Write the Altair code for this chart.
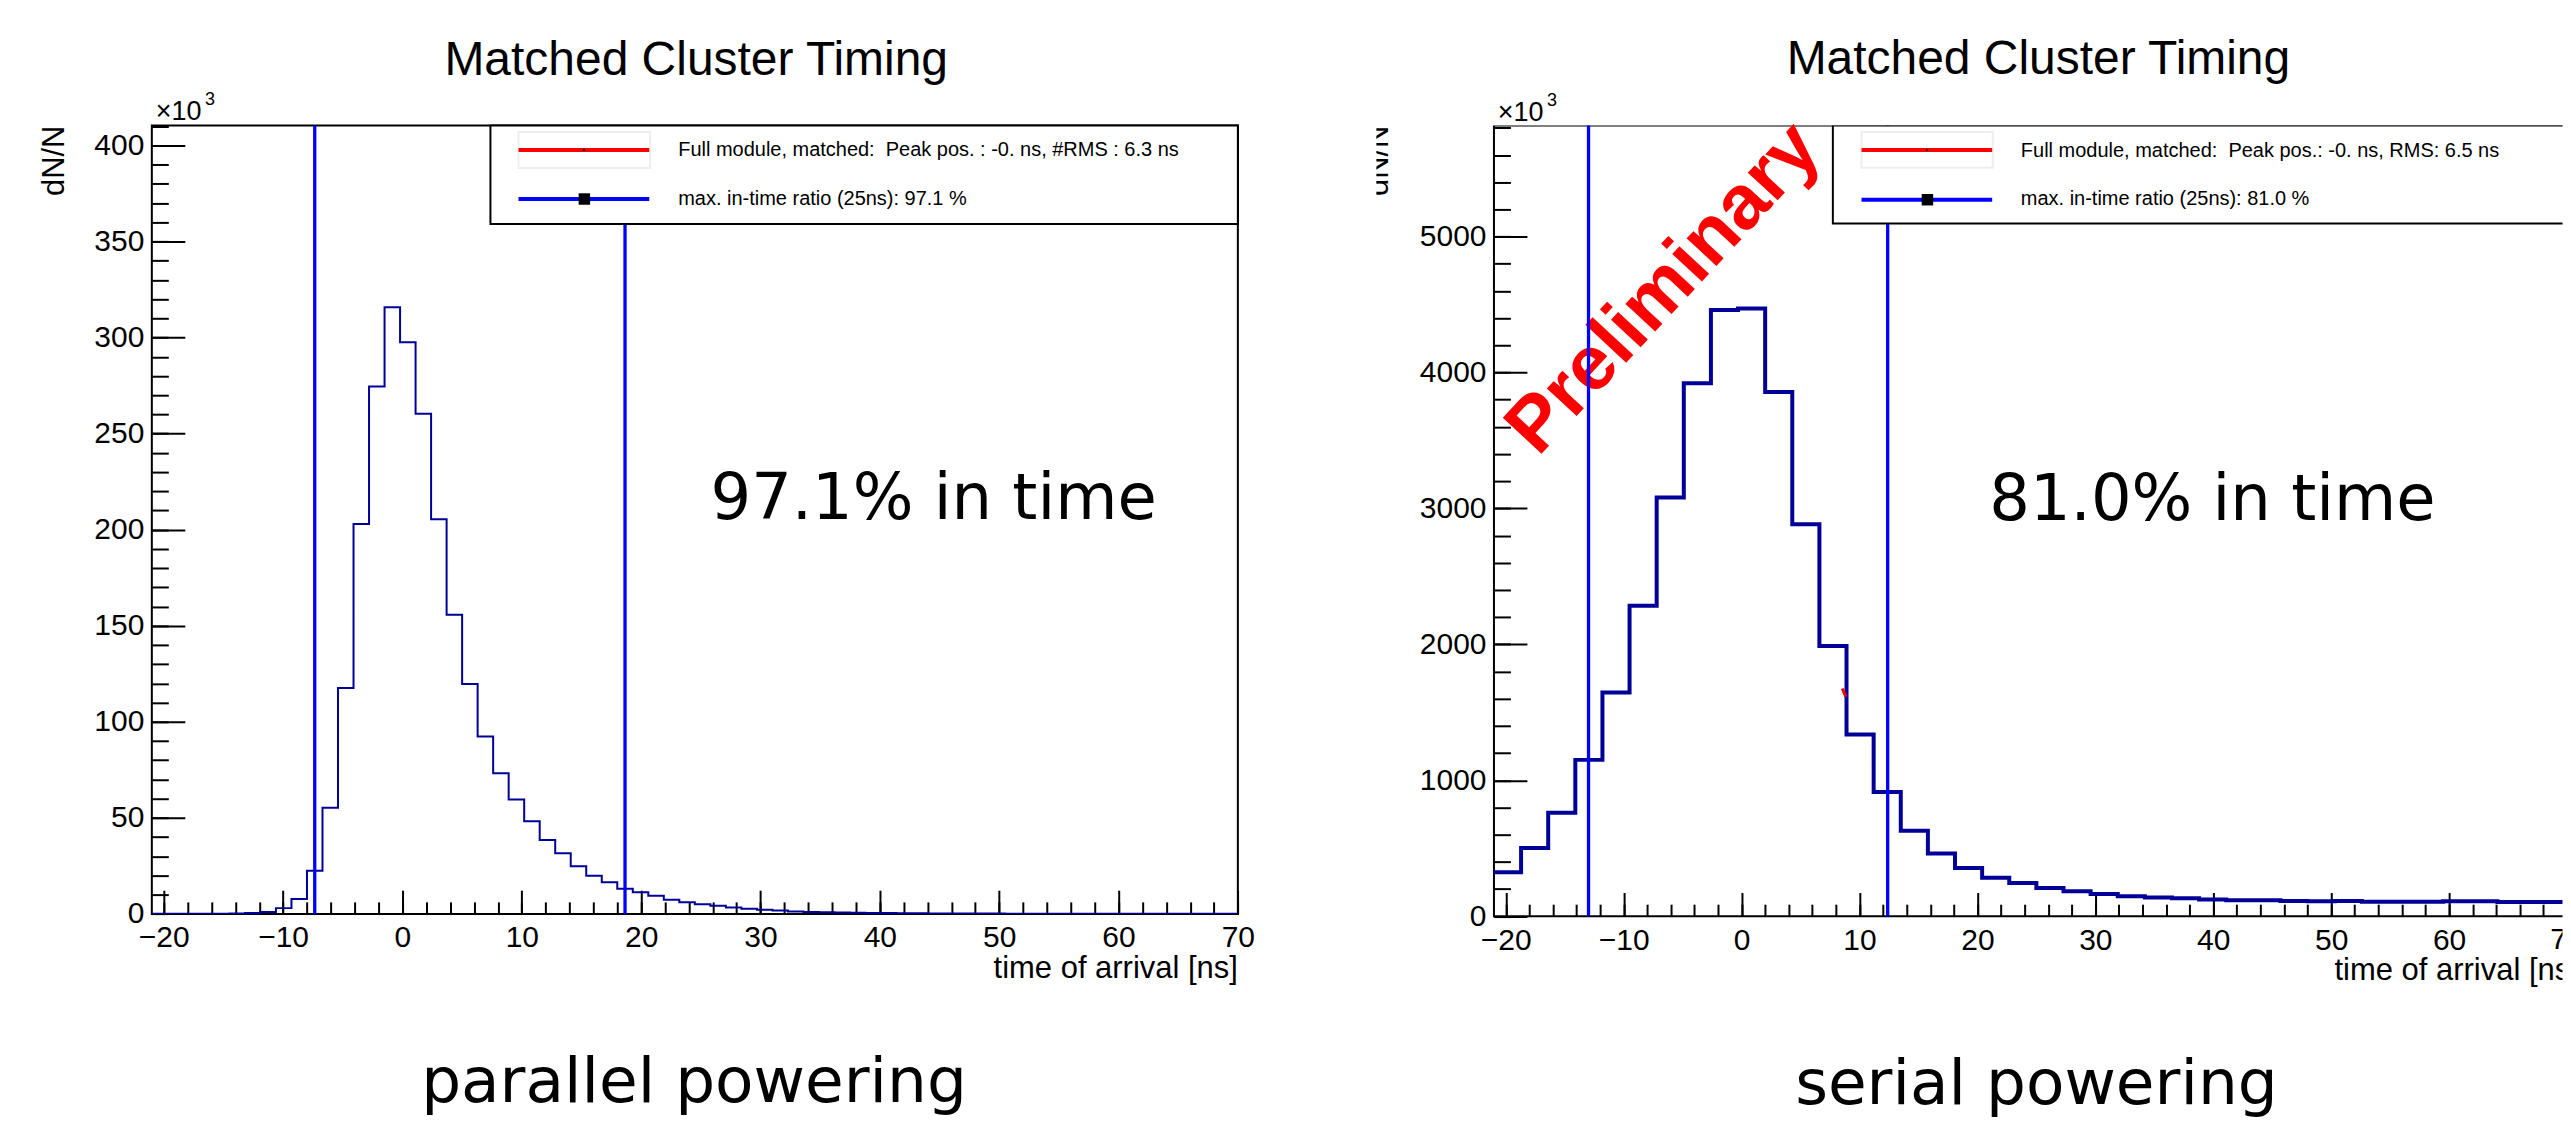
import altair as alt
import pandas as pd

# ---------------- values ----------------
# parallel powering: 70 bins of 1.3 ns starting at -21 ns (counts in units of 10^3)
par_start, par_width = -21.0, 1.3
par_counts = [0.02, 0.02, 0.03, 0.04, 0.06, 0.15, 0.4, 1.0, 3.0, 7.8,
              22.5, 55.2, 117.6, 202.9, 274.6, 315.8, 297.6, 260.4, 205.4, 155.7,
              119.7, 92.3, 73.2, 59.6, 48.2, 38.4, 31.6, 24.8, 19.9, 16.5,
              13.1, 11.2, 9.5, 7.4, 6.1, 5.0, 4.2, 3.3, 2.7, 2.1,
              1.7, 1.2, 1.0, 0.85, 0.7, 0.6, 0.5, 0.42, 0.36, 0.3,
              0.26, 0.22, 0.19, 0.16, 0.14, 0.12, 0.1, 0.09, 0.08, 0.07,
              0.06, 0.06, 0.05, 0.05, 0.04, 0.04, 0.04, 0.03, 0.03, 0.03]
# serial powering: 40 bins of 2.3 ns starting at -21 ns (counts in units of 10^3)
ser_start, ser_width = -21.0, 2.3
ser_counts = [324, 501, 761, 1150, 1645, 2283, 3081, 3920, 4460, 4471,
              3857, 2883, 1987, 1337, 914, 629, 462, 354, 282, 244,
              208, 183, 164, 147, 137, 132, 122, 117, 117, 112,
              110, 112, 107, 107, 107, 110, 110, 105, 105, 105]
par_window = [-7.35, 18.65]
ser_window = [-12.98, 12.39]
ser_red_t = [8.54, 8.83]
ser_red_n = [1675.0, 1615.0]

x_major = [-20, -10, 0, 10, 20, 30, 40, 50, 60, 70]
x_minor = list(range(-20, 71, 2))
par_y_major = [0, 50, 100, 150, 200, 250, 300, 350, 400]
par_y_minor = list(range(0, 411, 10))
ser_y_major = [0, 1000, 2000, 3000, 4000, 5000]
ser_y_minor = list(range(0, 5801, 200))

title_text = "Matched Cluster Timing"
y_title = "dN/N"
x_title = "time of arrival [ns]"
exp_base = "×10"
exp_pow = "3"
par_leg = ["Full module, matched:\u00a0 Peak pos. : -0. ns, #RMS : 6.3 ns",
           "max. in-time ratio (25ns): 97.1 %"]
ser_leg = ["Full module, matched:\u00a0 Peak pos.: -0. ns, RMS: 6.5 ns",
           "max. in-time ratio (25ns): 81.0 %"]
par_big = "97.1% in time"
ser_big = "81.0% in time"
par_caption = "parallel powering"
ser_caption = "serial powering"
watermark = "Preliminary"

FONT = "Liberation Sans"
BIG = "DejaVu Sans"
HIST = "#000099"
LINE = "#0000ff"


def step_df(start, width, counts):
    xs = [round(start + i * width, 6) for i in range(len(counts) + 1)]
    ys = list(counts) + [counts[-1]]
    return pd.DataFrame({"t": xs, "n": ys})


def one(label=""):
    return pd.DataFrame({"label": [label]})


def panel(p):
    ox, oy = p["origin"]
    W, H, Hv, fdx = p["W"], p["H"], p["Hv"], p["frame_dx"]
    fx2 = p["frame_x2"]
    extra = Hv - H
    clip = p["clip"]

    def X(v):
        return v - ox

    def Y(v):
        return v - oy

    ymax = p["ymax"]
    ymin = -extra * ymax / H
    xmax = p["xdom"][1]
    xs = alt.Scale(domain=p["xdom"], nice=False, zero=False)
    ys = alt.Scale(domain=[ymin, ymax], nice=False, zero=False)
    xmaj = [v for v in x_major if v <= xmax + 1e-9]
    xmin_t = [v for v in x_minor if v <= xmax + 1e-9]

    def axis(orient, values, size, shift, labels, pad):
        return alt.Axis(orient=orient, values=values, tickSize=size,
                        offset=-(shift + size), labels=labels, domain=False,
                        grid=False, ticks=True, tickColor="black", tickWidth=2,
                        labelFont=FONT, labelFontSize=30, labelColor="black",
                        labelPadding=pad, labelFlush=False, labelOverlap=False, format="d")

    def txt(label, x, y, size, font=FONT, align="left", **kw):
        return alt.Chart(one(label)).mark_text(
            align=align, baseline="alphabetic", font=font, fontSize=size, **kw
        ).encode(x=alt.value(x), y=alt.value(y), text="label:N")

    def hrule(x1, x2, y, color, width):
        return alt.Chart(one()).mark_rule(color=color, strokeWidth=width).encode(
            x=alt.value(x1), x2=alt.value(x2), y=alt.value(y))

    def box(x1, x2, y1, y2, stroke, width, fill):
        return alt.Chart(one()).mark_rect(fill=fill, stroke=stroke, strokeWidth=width,
                                          clip=clip).encode(
            x=alt.value(x1), x2=alt.value(x2), y=alt.value(y1), y2=alt.value(y2))

    df = step_df(p["start"], p["width"], p["counts"])
    layers = []
    layers.append(box(fdx, fx2, 0, H, "black", 2, "transparent"))
    if p.get("watermark"):
        bx, by = p["wm_pos"]
        layers.append(txt(p["watermark"], X(bx), Y(by), p["wm_size"], font=FONT,
                          align="left", fontWeight="bold", angle=p["wm_angle"], color="#ff0000"))
    layers.append(alt.Chart(df).mark_line(interpolate="step-after", color=HIST,
                                          strokeWidth=p["hist_w"], clip=True).encode(
        x=alt.X("t:Q", scale=xs, title=None, axis=axis("bottom", xmaj, 23.7, extra, True, 9)),
        y=alt.Y("n:Q", scale=ys, title=None, axis=axis("left", p["ymaj"], 33, fdx, True, 8))))
    layers.append(alt.Chart(df).mark_line(opacity=0, clip=True).encode(
        x=alt.X("t:Q", scale=xs, title=None, axis=axis("bottom", xmin_t, 12, extra, False, 0)),
        y=alt.Y("n:Q", scale=ys, title=None, axis=axis("left", p["ymin"], 16.5, fdx, False, 0))))
    if p.get("clipped_labels"):
        layers.append(alt.Chart(pd.DataFrame({"t": p["clipped_labels"],
                                              "label": [str(v) for v in p["clipped_labels"]]}))
                      .mark_text(align="center", baseline="top", font=FONT, fontSize=30,
                                 color="black", clip=True).encode(
            x=alt.X("t:Q", scale=xs, axis=None), y=alt.value(H + 9), text="label:N"))
    layers.append(alt.Chart(pd.DataFrame({"t": p["window"]})).mark_rule(
        color=LINE, strokeWidth=3.3).encode(x=alt.X("t:Q", scale=xs, axis=None),
                                            y=alt.value(0), y2=alt.value(H)))
    if p.get("red"):
        layers.append(alt.Chart(pd.DataFrame({"t": p["red"][0], "n": p["red"][1]})).mark_line(
            color="#ff0000", strokeWidth=3).encode(
            x=alt.X("t:Q", scale=xs, axis=None), y=alt.Y("n:Q", scale=ys, axis=None)))
    # legend
    lx1, lx2, ly1, ly2 = p["leg_box"]
    layers.append(box(X(lx1), X(lx2), Y(ly1), Y(ly2), "black", 2, "white"))
    gx1, gx2, gy1, gy2 = p["leg_gray"]
    layers.append(box(X(gx1), X(gx2), Y(gy1), Y(gy2), "#eeeeee", 2, "white"))
    sx1, sx2 = p["leg_line_x"]
    layers.append(hrule(X(sx1), X(sx2), Y(p["leg_y"][0]), "#ff0000", 4))
    layers.append(hrule(X(sx1), X(sx2), Y(p["leg_y"][1]), LINE, 4))
    mx = X((sx1 + sx2) / 2 + p["mark_dx"])
    layers.append(alt.Chart(one()).mark_square(size=4, color="black", opacity=1).encode(
        x=alt.value(X((sx1 + sx2) / 2)), y=alt.value(Y(p["leg_y"][0]))))
    layers.append(alt.Chart(one()).mark_square(size=132, color="black", opacity=1).encode(
        x=alt.value(mx), y=alt.value(Y(p["leg_y"][1]))))
    layers.append(txt(p["leg"][0], X(p["leg_tx"]), Y(p["leg_base"][0]), 20))
    layers.append(txt(p["leg"][1], X(p["leg_tx"]), Y(p["leg_base"][1]), 20))
    # texts
    layers.append(txt(title_text, X(p["title"][0]), Y(p["title"][1]), 48, align="center"))
    layers.append(txt(exp_base, X(p["exp"][0]), Y(p["exp"][1]), 27))
    layers.append(txt(exp_pow, X(p["pow"][0]), Y(p["pow"][1]), 18))
    layers.append(txt(y_title, X(p["ytitle"][0]), Y(p["ytitle"][1]), 31, align="right",
                      angle=270, clip=clip))
    layers.append(txt(x_title, X(p["xtitle"][0]), Y(p["xtitle"][1]), 31, align="right",
                      clip=clip))
    layers.append(txt(p["big"], X(p["big_pos"][0]), Y(p["big_pos"][1]), 64, font=BIG, align="center"))
    layers.append(txt(p["caption"], X(p["cap_pos"][0]), Y(p["cap_pos"][1]), 63, font=BIG, align="center"))
    # invisible pins fixing the layout bounds
    for (px, py) in p["pins"]:
        layers.append(alt.Chart(one()).mark_rule(opacity=0, strokeWidth=1).encode(
            x=alt.value(X(px) + 0.5), x2=alt.value(X(px) + 0.5),
            y=alt.value(Y(py) + 0.5), y2=alt.value(Y(py) + 0.5)))
    return alt.layer(*layers).properties(width=W, height=Hv).resolve_axis(
        x="independent", y="independent")


# left panel geometry (page pixels)
L_left, L_top, L_right, L_bottom = 151.7, 124.1, 1239.0, 913.4
left = panel(dict(
    origin=(L_left, L_top), W=L_right - L_left, H=L_bottom - L_top, Hv=L_bottom - L_top,
    frame_dx=0, frame_x2=L_right - L_left, clip=False,
    xdom=[-21, 70], ymax=410.4, start=par_start, width=par_width, counts=par_counts,
    ymaj=par_y_major, ymin=par_y_minor, hist_w=2, window=par_window,
    leg_box=(490.7, L_right, L_top, 222.7), leg_gray=(518.8, 650.6, 130.7, 166.7),
    leg_line_x=(518.8, 649.7), leg_y=(148.7, 197.7), mark_dx=0.5, leg_tx=678.7,
    leg_base=(155.0, 203.3), leg=par_leg,
    title=(696.7, 74.0), exp=(155.7, 119.0), pow=(205.0, 103.6),
    ytitle=(63.3, L_top), xtitle=(L_right, 978.0),
    big=par_big, big_pos=(934.4, 518.0), caption=par_caption, cap_pos=(694.5, 1102.0),
    pins=[(8.0, 8.0), (1269.0, 8.0)],
))

# right panel geometry (page pixels); the view spans the part of the picture that is kept
R_cut, R_frame, R_top, R_right, R_bottom = 1375.0, 1492.7, 122.7, 2578.8, 914.3
R_edge, R_view_bottom = 2562.5, 1000.0
R_ppu = (R_right - R_frame) / 92.0
right = panel(dict(
    origin=(R_cut, R_top), W=R_edge - R_cut, H=R_bottom - R_top, Hv=R_view_bottom - R_top,
    frame_dx=R_frame - R_cut, frame_x2=R_right - R_cut, clip=True,
    xdom=[-21 - (R_frame - R_cut) / R_ppu, -21 + (R_edge - R_frame) / R_ppu],
    ymax=5817, start=ser_start, width=ser_width,
    counts=ser_counts, ymaj=ser_y_major, ymin=ser_y_minor, hist_w=4, window=ser_window,
    red=(ser_red_t, ser_red_n), clipped_labels=[70],
    leg_box=(1832.0, R_right, R_top, 220.7), leg_gray=(1860.7, 1992.0, 129.3, 165.0),
    leg_line_x=(1860.7, 1991.5), leg_y=(147.3, 197.0), mark_dx=0.6, leg_tx=2020.2,
    leg_base=(154.0, 202.7), leg=ser_leg,
    title=(2037.8, 71.4), exp=(1496.5, 118.0), pow=(1545.7, 103.6),
    ytitle=(1386.7, R_top), xtitle=(R_right, 978.0),
    big=ser_big, big_pos=(2212.0, 518.0), caption=ser_caption, cap_pos=(2035.8, 1102.0),
    watermark=watermark, wm_pos=(1536.7, 455.0), wm_size=77, wm_angle=313,
    pins=[(1395.0, 8.0)],
))

chart = alt.hconcat(left, right, spacing=106).properties(
    padding=0, background="white").configure_view(stroke="transparent")

chart.save("out.html", embed_options={"renderer": "svg", "actions": False})
